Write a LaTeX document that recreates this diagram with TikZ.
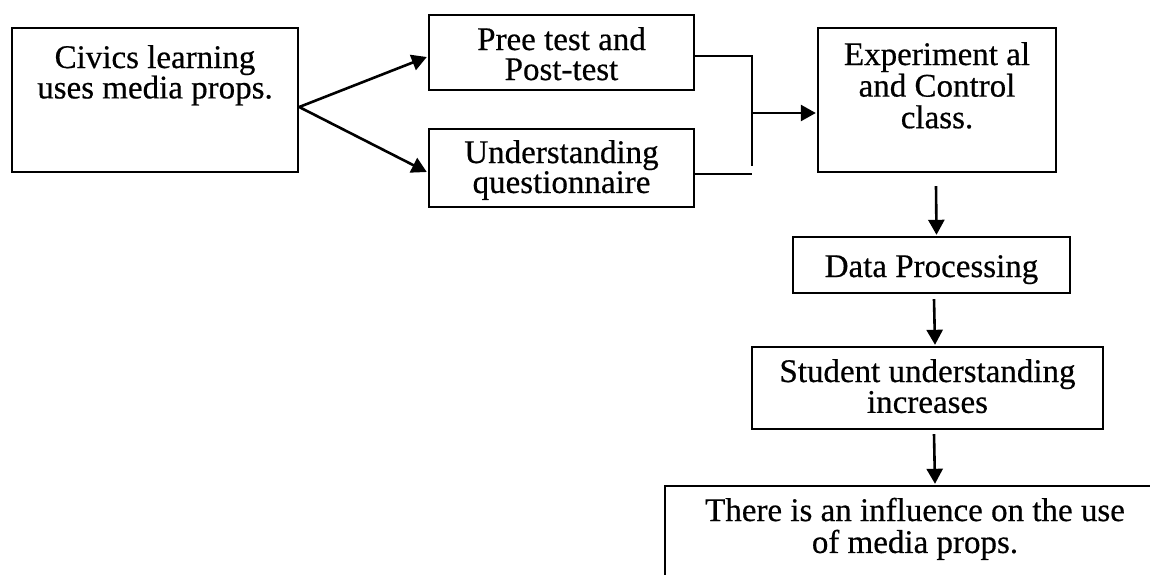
\documentclass[tikz,border=0pt]{standalone}
\usepackage{fontspec}
\setmainfont{Liberation Serif}[FakeBold=0.5]
\usetikzlibrary{arrows.meta}
\newcommand{\mylines}[1]{\begin{tabular}[t]{@{}c@{}}#1\end{tabular}}
\tikzset{
  box/.style={draw=black, line width=2.4pt, rectangle, inner sep=0pt},
  lbl/.style={anchor=base, inner sep=0pt, align=center},
  conn/.style={line width=2.6pt},
  arr/.style={line width=2.6pt, -{Triangle[length=15pt,width=16pt]}}
}
\begin{document}
\begin{tikzpicture}[x=1pt,y=-1pt]
\useasboundingbox (0,0) rectangle (1150,574);
% boxes
\node[box, minimum width=286pt, minimum height=144pt] (civ) at (155,100) {};
\node[box, minimum width=265pt, minimum height=75pt] (pre) at (561.5,52.5) {};
\node[box, minimum width=265pt, minimum height=78pt] (und) at (561.5,168) {};
\node[box, minimum width=238pt, minimum height=144pt] (exp) at (937,100) {};
\node[box, minimum width=277pt, minimum height=56pt] (dat) at (931.5,265) {};
\node[box, minimum width=351pt, minimum height=82pt] (stu) at (927.5,388) {};
\node[box, minimum width=500pt, minimum height=200pt] (inf) at (915,586) {};
% texts
\node[lbl, font=\fontsize{33}{25}\selectfont] (civt) at (155,68) {\mylines{Civics learning\\uses media props.}};
\node[lbl, font=\fontsize{33}{28}\selectfont] (pret) at (561.5,50) {\mylines{Pree test and\\Post-test}};
\node[lbl, font=\fontsize{33}{27}\selectfont] (undt) at (561.5,163) {\mylines{Understanding\\questionnaire}};
\node[lbl, font=\fontsize{33}{29}\selectfont] (expt) at (937,65) {\mylines{Experiment al\\and Control\\class.}};
\node[lbl, font=\fontsize{33}{29}\selectfont] (datt) at (931.5,277) {\mylines{Data Processing}};
\node[lbl, font=\fontsize{33}{30}\selectfont] (stut) at (927.5,382) {\mylines{Student understanding\\increases}};
\node[lbl, font=\fontsize{33}{29}\selectfont] (inft) at (915,521) {\mylines{There is an influence on the use\\of media props.}};
% junction coordinates
\coordinate (j1) at (752,166);
\coordinate (j3) at (752,113);
\coordinate (uend) at (752,174);
% connectors
\draw[arr] ([yshift=-7pt]civ.east) -- ([xshift=-1pt,yshift=-4.5pt]pre.west);
\draw[arr] ([yshift=-7pt]civ.east) -- ([xshift=-1pt,yshift=-4pt]und.west);
\draw[conn] ([yshift=-3.5pt]pre.east) -| (j1);
\draw[conn] ([yshift=-6pt]und.east) -- (uend);
\draw[arr] (j3) -- ([xshift=-1pt,yshift=-13pt]exp.west);
\draw[arr] ([xshift=-1pt,yshift=-13pt]exp.south) -- ([xshift=5pt,yshift=1pt]dat.north);
\draw[arr] ([xshift=2.5pt,yshift=-5pt]dat.south) -- ([xshift=7.5pt,yshift=1pt]stu.north);
\draw[arr] ([xshift=6.5pt,yshift=-4pt]stu.south) -- ([xshift=20pt,yshift=1pt]inf.north);
\end{tikzpicture}
\end{document}
